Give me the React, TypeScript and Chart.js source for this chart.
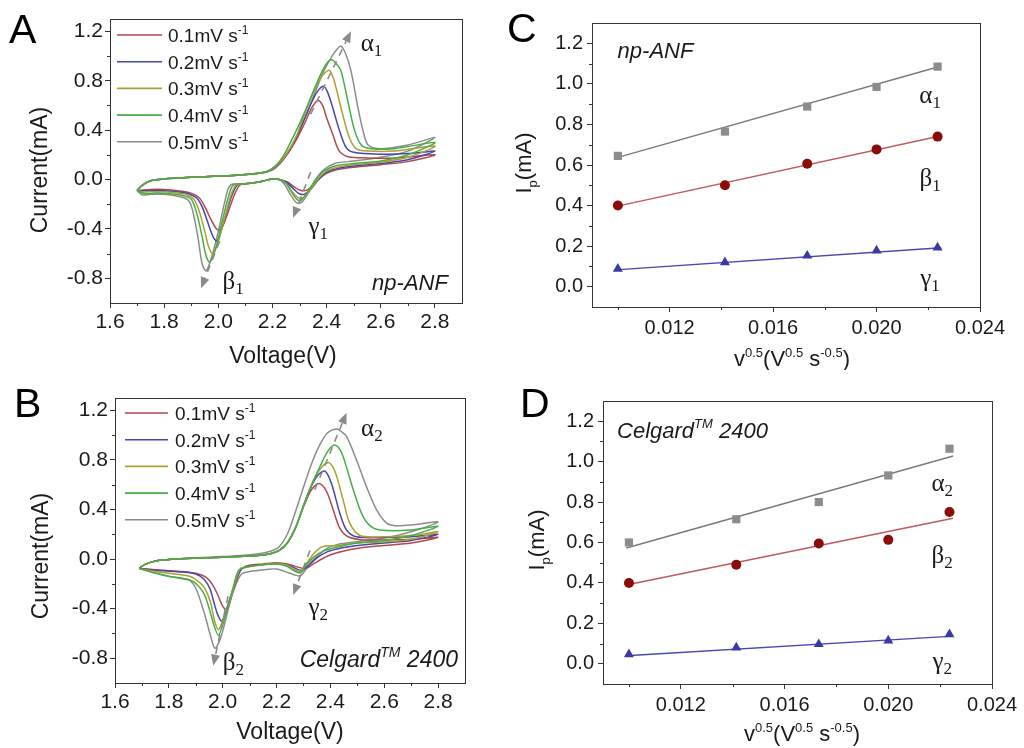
import React, { useEffect, useRef } from 'react';
import { Chart, registerables } from 'chart.js';

Chart.register(...registerables);

const SANS = '"Liberation Sans", Arial, sans-serif';
const SERIF = '"Liberation Serif", "Times New Roman", serif';

type Pt = [number, number];

// ---------- shared labels / colours ----------
const scanRateLabels = ['0.1', '0.2', '0.3', '0.4', '0.5'];
const cvColors = ['#b5484a', '#4646ad', '#aca033', '#46ae46', '#8c8c8c'];
const cvDrawOrder = [3, 2, 1, 0, 4];

// ---------- Panel A (np-ANF) cyclic voltammograms [V, mA] ----------
const cvA_01: Pt[] = [
  [1.70, -0.09], [1.72, -0.045], [1.75, -0.01], [1.8, 0.005], [1.9, 0.018], [2.0, 0.028], [2.08, 0.037], [2.14, 0.048], [2.18, 0.065],
  [2.21, 0.1], [2.25, 0.19], [2.29, 0.33], [2.32, 0.46], [2.345, 0.58], [2.368, 0.64], [2.385, 0.6], [2.4, 0.5], [2.422, 0.37], [2.447, 0.23], [2.48, 0.185], [2.55, 0.175], [2.65, 0.175], [2.8, 0.2],
  [2.7, 0.145], [2.6, 0.12], [2.5, 0.1], [2.44, 0.08], [2.4, 0.05], [2.37, 0.0], [2.345, -0.06], [2.322, -0.09], [2.3, -0.085], [2.28, -0.06], [2.255, -0.02], [2.225, 0.0], [2.2, 0.005],
  [2.15, -0.02], [2.1, -0.035], [2.08, -0.045], [2.06, -0.12], [2.04, -0.24], [2.02, -0.36], [2.005, -0.41], [1.99, -0.39], [1.97, -0.31], [1.95, -0.22], [1.93, -0.15], [1.9, -0.11], [1.85, -0.09], [1.8, -0.08], [1.75, -0.08], [1.72, -0.085], [1.70, -0.09],
];
const cvA_02: Pt[] = [
  [1.70, -0.09], [1.72, -0.045], [1.75, -0.01], [1.8, 0.005], [1.9, 0.018], [2.0, 0.028], [2.08, 0.037], [2.14, 0.048], [2.18, 0.065],
  [2.21, 0.105], [2.25, 0.2], [2.29, 0.35], [2.32, 0.5], [2.35, 0.65], [2.372, 0.73], [2.39, 0.754], [2.405, 0.7], [2.422, 0.586], [2.447, 0.4], [2.472, 0.26], [2.5, 0.22], [2.6, 0.205], [2.7, 0.21], [2.8, 0.23],
  [2.7, 0.16], [2.6, 0.13], [2.5, 0.11], [2.44, 0.09], [2.4, 0.06], [2.37, 0.0], [2.345, -0.07], [2.315, -0.12], [2.295, -0.11], [2.275, -0.07], [2.25, -0.02], [2.225, 0.0], [2.2, 0.005],
  [2.15, -0.02], [2.1, -0.035], [2.07, -0.045], [2.05, -0.13], [2.03, -0.27], [2.01, -0.42], [1.995, -0.5], [1.98, -0.46], [1.96, -0.34], [1.94, -0.22], [1.92, -0.15], [1.89, -0.115], [1.85, -0.1], [1.8, -0.09], [1.75, -0.09], [1.72, -0.09], [1.70, -0.09],
];
const cvA_03: Pt[] = [
  [1.70, -0.09], [1.72, -0.045], [1.75, -0.01], [1.8, 0.005], [1.9, 0.018], [2.0, 0.028], [2.08, 0.037], [2.14, 0.048], [2.18, 0.065],
  [2.21, 0.105], [2.25, 0.2], [2.29, 0.36], [2.32, 0.54], [2.35, 0.7], [2.38, 0.83], [2.409, 0.884], [2.425, 0.82], [2.434, 0.75], [2.459, 0.53], [2.484, 0.34], [2.509, 0.25], [2.553, 0.23], [2.65, 0.23], [2.8, 0.27],
  [2.7, 0.18], [2.6, 0.14], [2.5, 0.12], [2.44, 0.1], [2.4, 0.07], [2.37, 0.01], [2.34, -0.08], [2.31, -0.15], [2.29, -0.14], [2.27, -0.09], [2.25, -0.03], [2.225, 0.0], [2.2, 0.005],
  [2.15, -0.02], [2.1, -0.035], [2.065, -0.045], [2.045, -0.14], [2.025, -0.3], [2.0, -0.5], [1.98, -0.6], [1.965, -0.55], [1.95, -0.42], [1.93, -0.26], [1.91, -0.16], [1.88, -0.12], [1.85, -0.11], [1.8, -0.1], [1.75, -0.1], [1.72, -0.1], [1.70, -0.09],
];
const cvA_04: Pt[] = [
  [1.70, -0.09], [1.72, -0.045], [1.75, -0.01], [1.8, 0.005], [1.9, 0.018], [2.0, 0.028], [2.08, 0.037], [2.14, 0.048], [2.18, 0.065],
  [2.21, 0.11], [2.24, 0.19], [2.28, 0.36], [2.32, 0.55], [2.35, 0.71], [2.38, 0.86], [2.4, 0.94], [2.418, 0.97], [2.435, 0.94], [2.453, 0.88], [2.478, 0.64], [2.503, 0.4], [2.528, 0.28], [2.565, 0.25], [2.65, 0.25], [2.8, 0.3],
  [2.7, 0.2], [2.6, 0.15], [2.5, 0.13], [2.43, 0.11], [2.39, 0.07], [2.36, 0.0], [2.33, -0.1], [2.305, -0.17], [2.29, -0.16], [2.27, -0.1], [2.25, -0.03], [2.225, 0.0], [2.2, 0.005],
  [2.15, -0.02], [2.1, -0.035], [2.055, -0.045], [2.035, -0.16], [2.01, -0.38], [1.99, -0.56], [1.968, -0.67], [1.955, -0.62], [1.94, -0.46], [1.92, -0.27], [1.9, -0.16], [1.87, -0.13], [1.82, -0.115], [1.77, -0.11], [1.73, -0.115], [1.70, -0.09],
];
const cvA_05: Pt[] = [
  [1.70, -0.09], [1.72, -0.045], [1.75, -0.01], [1.8, 0.005], [1.9, 0.018], [2.0, 0.028], [2.08, 0.037], [2.14, 0.048], [2.18, 0.06],
  [2.21, 0.09], [2.24, 0.16], [2.28, 0.3], [2.32, 0.5], [2.36, 0.72], [2.39, 0.88], [2.42, 1.0], [2.44, 1.06], [2.453, 1.08], [2.47, 1.02], [2.49, 0.88], [2.515, 0.59], [2.534, 0.4], [2.553, 0.28], [2.6, 0.25], [2.7, 0.28], [2.8, 0.34],
  [2.7, 0.23], [2.6, 0.18], [2.5, 0.15], [2.43, 0.13], [2.39, 0.08], [2.36, 0.0], [2.33, -0.12], [2.31, -0.18], [2.297, -0.195], [2.285, -0.18], [2.266, -0.12], [2.245, -0.04], [2.225, 0.0], [2.2, 0.005],
  [2.15, -0.02], [2.1, -0.035], [2.045, -0.045], [2.025, -0.17], [2.0, -0.42], [1.975, -0.63], [1.955, -0.74], [1.94, -0.68], [1.925, -0.47], [1.905, -0.25], [1.89, -0.17], [1.86, -0.14], [1.8, -0.12], [1.75, -0.12], [1.72, -0.125], [1.70, -0.09],
];

// ---------- Panel B (Celgard 2400) cyclic voltammograms [V, mA] ----------
const cvB_01: Pt[] = [
  [1.69, -0.075], [1.71, -0.045], [1.75, -0.015], [1.82, 0.0], [1.9, 0.008], [2.0, 0.015], [2.08, 0.022], [2.14, 0.03], [2.18, 0.045],
  [2.21, 0.07], [2.24, 0.13], [2.27, 0.25], [2.3, 0.42], [2.33, 0.56], [2.358, 0.61], [2.386, 0.545], [2.41, 0.4], [2.435, 0.25], [2.466, 0.18], [2.52, 0.155], [2.6, 0.155], [2.7, 0.16], [2.8, 0.175],
  [2.7, 0.13], [2.6, 0.11], [2.51, 0.09], [2.45, 0.065], [2.39, 0.025], [2.34, -0.035], [2.315, -0.07], [2.3, -0.075], [2.28, -0.065], [2.25, -0.045], [2.2, -0.03],
  [2.15, -0.04], [2.1, -0.05], [2.075, -0.07], [2.06, -0.12], [2.04, -0.25], [2.025, -0.36], [2.015, -0.41], [2.0, -0.38], [1.98, -0.28], [1.96, -0.2], [1.94, -0.15], [1.91, -0.12], [1.85, -0.1], [1.78, -0.09], [1.72, -0.08], [1.69, -0.075],
];
const cvB_02: Pt[] = [
  [1.69, -0.075], [1.71, -0.045], [1.75, -0.015], [1.82, 0.0], [1.9, 0.008], [2.0, 0.015], [2.08, 0.022], [2.14, 0.03], [2.18, 0.045],
  [2.21, 0.07], [2.24, 0.13], [2.27, 0.25], [2.3, 0.43], [2.33, 0.59], [2.355, 0.68], [2.38, 0.71], [2.404, 0.61], [2.435, 0.37], [2.46, 0.235], [2.497, 0.18], [2.6, 0.175], [2.7, 0.18], [2.8, 0.2],
  [2.7, 0.15], [2.6, 0.13], [2.5, 0.11], [2.44, 0.09], [2.39, 0.06], [2.35, 0.01], [2.32, -0.05], [2.295, -0.09], [2.28, -0.085], [2.25, -0.055], [2.2, -0.035],
  [2.15, -0.045], [2.1, -0.055], [2.07, -0.08], [2.05, -0.17], [2.03, -0.3], [2.01, -0.43], [1.996, -0.5], [1.98, -0.44], [1.965, -0.33], [1.953, -0.24], [1.93, -0.16], [1.9, -0.12], [1.85, -0.105], [1.78, -0.095], [1.72, -0.085], [1.69, -0.075],
];
const cvB_03: Pt[] = [
  [1.69, -0.075], [1.71, -0.045], [1.75, -0.015], [1.82, 0.0], [1.9, 0.008], [2.0, 0.015], [2.08, 0.022], [2.14, 0.03], [2.18, 0.045],
  [2.21, 0.07], [2.24, 0.13], [2.27, 0.25], [2.3, 0.43], [2.33, 0.6], [2.36, 0.72], [2.392, 0.78], [2.41, 0.74], [2.423, 0.67], [2.447, 0.48], [2.472, 0.29], [2.51, 0.19], [2.6, 0.18], [2.7, 0.19], [2.8, 0.22],
  [2.7, 0.16], [2.6, 0.14], [2.5, 0.13], [2.43, 0.11], [2.37, 0.1], [2.34, 0.05], [2.31, -0.04], [2.29, -0.1], [2.27, -0.09], [2.24, -0.05], [2.2, -0.035],
  [2.15, -0.045], [2.1, -0.06], [2.065, -0.08], [2.045, -0.2], [2.025, -0.35], [2.0, -0.5], [1.984, -0.57], [1.97, -0.5], [1.955, -0.35], [1.935, -0.24], [1.915, -0.19], [1.88, -0.14], [1.82, -0.12], [1.75, -0.1], [1.69, -0.075],
];
const cvB_04: Pt[] = [
  [1.69, -0.075], [1.71, -0.045], [1.75, -0.015], [1.82, 0.0], [1.9, 0.008], [2.0, 0.015], [2.08, 0.022], [2.14, 0.03], [2.18, 0.045],
  [2.21, 0.07], [2.24, 0.13], [2.27, 0.25], [2.3, 0.43], [2.33, 0.6], [2.36, 0.74], [2.39, 0.87], [2.413, 0.92], [2.43, 0.9], [2.447, 0.83], [2.485, 0.56], [2.522, 0.34], [2.56, 0.25], [2.61, 0.23], [2.7, 0.235], [2.8, 0.265],
  [2.7, 0.19], [2.6, 0.15], [2.5, 0.13], [2.43, 0.1], [2.38, 0.07], [2.34, 0.02], [2.31, -0.05], [2.29, -0.11], [2.27, -0.1], [2.24, -0.06], [2.2, -0.04],
  [2.15, -0.045], [2.1, -0.06], [2.06, -0.09], [2.04, -0.22], [2.02, -0.38], [2.0, -0.53], [1.984, -0.615], [1.97, -0.55], [1.95, -0.4], [1.935, -0.3], [1.922, -0.25], [1.89, -0.18], [1.84, -0.155], [1.78, -0.13], [1.72, -0.095], [1.69, -0.075],
];
const cvB_05: Pt[] = [
  [1.69, -0.075], [1.71, -0.045], [1.75, -0.015], [1.82, 0.0], [1.9, 0.01], [2.0, 0.02], [2.08, 0.03], [2.14, 0.045], [2.18, 0.065],
  [2.21, 0.1], [2.24, 0.2], [2.27, 0.38], [2.3, 0.58], [2.33, 0.77], [2.36, 0.92], [2.39, 1.02], [2.423, 1.05], [2.44, 1.03], [2.46, 0.99], [2.497, 0.8], [2.534, 0.585], [2.571, 0.4], [2.609, 0.29], [2.64, 0.27], [2.7, 0.275], [2.8, 0.3],
  [2.7, 0.22], [2.6, 0.17], [2.5, 0.14], [2.43, 0.12], [2.386, 0.085], [2.35, 0.02], [2.324, -0.035], [2.3, -0.11], [2.287, -0.135], [2.27, -0.13], [2.25, -0.115], [2.2, -0.08],
  [2.16, -0.085], [2.1, -0.1], [2.07, -0.12], [2.05, -0.2], [2.03, -0.32], [2.01, -0.5], [1.99, -0.65], [1.971, -0.72], [1.955, -0.62], [1.94, -0.5], [1.928, -0.41], [1.903, -0.25], [1.878, -0.17], [1.85, -0.155], [1.804, -0.14], [1.75, -0.115], [1.72, -0.095], [1.69, -0.075],
];

// dashed trend arrows [from, to] in data units
const arrowsA: [Pt, Pt][] = [
  [[2.341, 0.53], [2.49, 1.2]],
  [[2.341, 0.06], [2.276, -0.31]],
  [[2.005, -0.5], [1.936, -0.88]],
];
const arrowsB: [Pt, Pt][] = [
  [[2.342, 0.56], [2.46, 1.18]],
  [[2.324, 0.07], [2.262, -0.29]],
  [[2.02, -0.3], [1.965, -0.86]],
];

// ---------- Panels C & D: peak current vs sqrt(scan rate) ----------
const sqrtRate = [0.01, 0.01414, 0.01732, 0.02, 0.02236];
const ipAlpha1 = [0.645, 0.765, 0.888, 0.985, 1.085];
const ipBeta1 = [0.4, 0.5, 0.606, 0.677, 0.74];
const ipGamma1 = [0.088, 0.12, 0.153, 0.178, 0.193];
const ipAlpha2 = [0.6, 0.715, 0.8, 0.932, 1.064];
const ipBeta2 = [0.4, 0.49, 0.595, 0.613, 0.751];
const ipGamma2 = [0.047, 0.08, 0.097, 0.115, 0.146];
const fitX = [0.0099, 0.0225];
const fitAlpha1 = [0.634, 1.088];
const fitBeta1 = [0.395, 0.744];
const fitGamma1 = [0.083, 0.192];
const fitAlpha2 = [0.573, 1.028];
const fitBeta2 = [0.39, 0.72];
const fitGamma2 = [0.04, 0.137];

// ---------- axis ticks ----------
const cvXMajor = [1.6, 1.8, 2.0, 2.2, 2.4, 2.6, 2.8];
const cvXMinor = [1.7, 1.9, 2.1, 2.3, 2.5, 2.7];
const cvYMajor = [-0.8, -0.4, 0.0, 0.4, 0.8, 1.2];
const cvYMinor = [-0.6, -0.2, 0.2, 0.6, 1.0];
const ipXMajor = [0.012, 0.016, 0.02, 0.024];
const ipXMinor = [0.01, 0.014, 0.018, 0.022];
const ipYMajor = [0.0, 0.2, 0.4, 0.6, 0.8, 1.0, 1.2];
const ipYMinor = [0.1, 0.3, 0.5, 0.7, 0.9, 1.1];

// ---------- helpers ----------
type Seg = { t: string; size: number; family?: string; style?: string; dy?: number };
type Align = 'left' | 'center' | 'right';

function drawRich(ctx: CanvasRenderingContext2D, segs: Seg[], x: number, y: number, align: Align, color = '#1a1a1a') {
  const ws: number[] = [];
  let total = 0;
  for (const s of segs) {
    ctx.font = `${s.style || 'normal'} ${s.size}px ${s.family || SANS}`;
    const w = ctx.measureText(s.t).width;
    ws.push(w);
    total += w;
  }
  let cx = align === 'left' ? x : align === 'right' ? x - total : x - total / 2;
  ctx.textAlign = 'left';
  ctx.textBaseline = 'alphabetic';
  ctx.fillStyle = color;
  segs.forEach((s, i) => {
    ctx.font = `${s.style || 'normal'} ${s.size}px ${s.family || SANS}`;
    ctx.fillText(s.t, cx, y + (s.dy || 0));
    cx += ws[i];
  });
}

const greek = (g: string, sub: string): Seg[] => [
  { t: g, size: 25, family: SERIF },
  { t: sub, size: 17, family: SERIF, dy: 5 },
];

type DataText = { segs: Seg[]; at: Pt; align: Align; base: number };

interface Panel {
  id: string;
  x: number; y: number; w: number; h: number;
  area: { left: number; top: number; right: number; bottom: number };
  xMin: number; xMax: number; yMin: number; yMax: number;
  xMajor: number[]; xMinor: number[]; yMajor: number[]; yMinor: number[];
  xDec: number; yDec: number;
  tickSize: number; xPad: number; yPad: number;
  datasets: any[];
  letter: string; letterPos: Pt;
  xTitle: Seg[]; xTitlePos: Pt;
  yTitle: Seg[]; yTitlePos: Pt;
  texts: DataText[];
  arrows: [Pt, Pt][];
  legend?: { lineX0: number; lineX1: number; textX: number; y0: number; step: number };
}

const toXY = (pts: Pt[]) => pts.map(([x, y]) => ({ x, y }));

function cvDatasets(curves: Pt[][]) {
  return curves.map((pts, i) => ({
    label: `${scanRateLabels[i]}mV s-1`,
    data: toXY(pts),
    showLine: true,
    borderColor: cvColors[i],
    backgroundColor: cvColors[i],
    borderWidth: 1.5,
    pointRadius: 0,
    tension: 0.3,
    fill: false,
    order: cvDrawOrder[i],
  }));
}

function ipDatasets(a: number[], b: number[], g: number[], fa: number[], fb: number[], fg: number[]) {
  const line = (vals: number[], color: string) => ({
    data: fitX.map((x, i) => ({ x, y: vals[i] })),
    showLine: true, borderColor: color, borderWidth: 1.4, pointRadius: 0, order: 2,
  });
  const marks = (vals: number[], color: string, style: string, r: number) => ({
    data: sqrtRate.map((x, i) => ({ x, y: vals[i] })),
    showLine: false, pointStyle: style, pointRadius: r, backgroundColor: color, borderColor: color, borderWidth: 0, order: 0,
  });
  return [
    line(fa, '#7a7a7a'), line(fb, '#c05a5a'), line(fg, '#4848b0'),
    marks(a, '#8c8c8c', 'rect', 5.8), marks(b, '#8b0a0a', 'circle', 5), marks(g, '#3a3aa3', 'triangle', 5.8),
  ];
}

const supSeg = (t: string, size = 13, dy = -9, style = 'normal'): Seg => ({ t, size, dy, style });

const cvXTitle: Seg[] = [{ t: 'Voltage(V)', size: 23 }];
const cvYTitle: Seg[] = [{ t: 'Current(mA)', size: 23 }];
const ipXTitle: Seg[] = [
  { t: 'v', size: 22 }, supSeg('0.5'), { t: '(V', size: 22 }, supSeg('0.5'), { t: ' s', size: 22 }, supSeg('-0.5'), { t: ')', size: 22 },
];
const ipYTitle: Seg[] = [{ t: 'I', size: 22 }, { t: 'p', size: 13, dy: 6 }, { t: '(mA)', size: 22 }];
const celgard = (size: number): Seg[] => [
  { t: 'Celgard', size, style: 'italic' },
  { t: 'TM', size: Math.round(size * 0.6), style: 'italic', dy: -10 },
  { t: ' 2400', size, style: 'italic' },
];

const PANELS: Panel[] = [
  {
    id: 'A', x: 0, y: 0, w: 500, h: 370,
    area: { left: 110, top: 19, right: 462, bottom: 303 },
    xMin: 1.6, xMax: 2.9, yMin: -1.0, yMax: 1.3,
    xMajor: cvXMajor, xMinor: cvXMinor, yMajor: cvYMajor, yMinor: cvYMinor,
    xDec: 1, yDec: 1, tickSize: 21, xPad: 2, yPad: 2,
    datasets: cvDatasets([cvA_01, cvA_02, cvA_03, cvA_04, cvA_05]),
    letter: 'A', letterPos: [9, 43],
    xTitle: cvXTitle, xTitlePos: [283, 363],
    yTitle: cvYTitle, yTitlePos: [47, 170],
    texts: [
      { segs: greek('α', '1'), at: [2.566, 1.09], align: 'center', base: 6 },
      { segs: greek('β', '1'), at: [2.055, -0.84], align: 'center', base: 6 },
      { segs: greek('γ', '1'), at: [2.369, -0.395], align: 'center', base: 6 },
      { segs: [{ t: 'np-ANF', size: 22, style: 'italic' }], at: [2.848, -0.83], align: 'right', base: 8 },
    ],
    arrows: arrowsA,
    legend: { lineX0: 7, lineX1: 52, textX: 58, y0: 16, step: 26.7 },
  },
  {
    id: 'B', x: 0, y: 370, w: 500, h: 378,
    area: { left: 115, top: 28, right: 465, bottom: 313 },
    xMin: 1.6, xMax: 2.9, yMin: -1.0, yMax: 1.3,
    xMajor: cvXMajor, xMinor: cvXMinor, yMajor: cvYMajor, yMinor: cvYMinor,
    xDec: 1, yDec: 1, tickSize: 21, xPad: 2, yPad: 2,
    datasets: cvDatasets([cvB_01, cvB_02, cvB_03, cvB_04, cvB_05]),
    letter: 'B', letterPos: [14, 47],
    xTitle: cvXTitle, xTitlePos: [290, 369],
    yTitle: cvYTitle, yTitlePos: [48, 186],
    texts: [
      { segs: greek('α', '2'), at: [2.554, 1.04], align: 'center', base: 6 },
      { segs: greek('β', '2'), at: [2.04, -0.845], align: 'center', base: 6 },
      { segs: greek('γ', '2'), at: [2.355, -0.4], align: 'center', base: 6 },
      { segs: celgard(23), at: [2.874, -0.81], align: 'right', base: 8 },
    ],
    arrows: arrowsB,
    legend: { lineX0: 10, lineX1: 53, textX: 60, y0: 15, step: 26.7 },
  },
  {
    id: 'C', x: 500, y: 0, w: 524, h: 370,
    area: { left: 92, top: 23, right: 480, bottom: 307 },
    xMin: 0.009, xMax: 0.024, yMin: -0.1, yMax: 1.3,
    xMajor: ipXMajor, xMinor: ipXMinor, yMajor: ipYMajor, yMinor: ipYMinor,
    xDec: 3, yDec: 1, tickSize: 20, xPad: 4, yPad: 4,
    datasets: ipDatasets(ipAlpha1, ipBeta1, ipGamma1, fitAlpha1, fitBeta1, fitGamma1),
    letter: 'C', letterPos: [7, 42],
    xTitle: ipXTitle, xTitlePos: [292, 366],
    yTitle: ipYTitle, yTitlePos: [31, 163],
    texts: [
      { segs: [{ t: 'np-ANF', size: 22, style: 'italic' }], at: [0.00999, 1.168], align: 'left', base: 8 },
      { segs: greek('α', '1'), at: [0.02207, 0.934], align: 'center', base: 6 },
      { segs: greek('β', '1'), at: [0.02207, 0.528], align: 'center', base: 6 },
      { segs: greek('γ', '1'), at: [0.02207, 0.033], align: 'center', base: 6 },
    ],
    arrows: [],
  },
  {
    id: 'D', x: 500, y: 370, w: 524, h: 378,
    area: { left: 103, top: 31, right: 492, bottom: 314 },
    xMin: 0.009, xMax: 0.024, yMin: -0.1, yMax: 1.3,
    xMajor: ipXMajor, xMinor: ipXMinor, yMajor: ipYMajor, yMinor: ipYMinor,
    xDec: 3, yDec: 1, tickSize: 20, xPad: 4, yPad: 4,
    datasets: ipDatasets(ipAlpha2, ipBeta2, ipGamma2, fitAlpha2, fitBeta2, fitGamma2),
    letter: 'D', letterPos: [20, 47],
    xTitle: ipXTitle, xTitlePos: [302, 371],
    yTitle: ipYTitle, yTitlePos: [44, 170],
    texts: [
      { segs: celgard(22), at: [0.00954, 1.159], align: 'left', base: 8 },
      { segs: greek('α', '2'), at: [0.02208, 0.883], align: 'center', base: 6 },
      { segs: greek('β', '2'), at: [0.02208, 0.529], align: 'center', base: 6 },
      { segs: greek('γ', '2'), at: [0.02208, 0.0035], align: 'center', base: 6 },
    ],
    arrows: [],
  },
];

function decorPlugin(p: Panel) {
  return {
    id: 'decor' + p.id,
    afterDraw(chart: any) {
      const ctx: CanvasRenderingContext2D = chart.ctx;
      const { left, top, right, bottom } = chart.chartArea;
      const xs = chart.scales.x;
      const ys = chart.scales.y;
      ctx.save();
      // frame
      ctx.strokeStyle = '#333';
      ctx.lineWidth = 1;
      ctx.setLineDash([]);
      ctx.strokeRect(Math.round(left) + 0.5, Math.round(top) + 0.5, Math.round(right - left), Math.round(bottom - top));
      // minor ticks
      ctx.beginPath();
      for (const v of p.xMinor) {
        const px = Math.round(xs.getPixelForValue(v)) + 0.5;
        ctx.moveTo(px, bottom);
        ctx.lineTo(px, bottom + 3);
      }
      for (const v of p.yMinor) {
        const py = Math.round(ys.getPixelForValue(v)) + 0.5;
        ctx.moveTo(left, py);
        ctx.lineTo(left - 3, py);
      }
      ctx.stroke();
      // arrows
      for (const [from, to] of p.arrows) {
        const x0 = xs.getPixelForValue(from[0]);
        const y0 = ys.getPixelForValue(from[1]);
        const x1 = xs.getPixelForValue(to[0]);
        const y1 = ys.getPixelForValue(to[1]);
        const ang = Math.atan2(y1 - y0, x1 - x0);
        const hl = 11;
        const hw = 4.5;
        const xe = x1 - hl * Math.cos(ang);
        const ye = y1 - hl * Math.sin(ang);
        ctx.strokeStyle = '#8a8a8a';
        ctx.fillStyle = '#8a8a8a';
        ctx.lineWidth = 1.6;
        ctx.setLineDash([7, 6]);
        ctx.beginPath();
        ctx.moveTo(x0, y0);
        ctx.lineTo(xe, ye);
        ctx.stroke();
        ctx.setLineDash([]);
        ctx.beginPath();
        ctx.moveTo(x1, y1);
        ctx.lineTo(xe + hw * Math.sin(ang), ye - hw * Math.cos(ang));
        ctx.lineTo(xe - hw * Math.sin(ang), ye + hw * Math.cos(ang));
        ctx.closePath();
        ctx.fill();
      }
      // legend
      if (p.legend) {
        const lg = p.legend;
        scanRateLabels.forEach((lab, i) => {
          const yy = top + lg.y0 + i * lg.step;
          ctx.strokeStyle = cvColors[i];
          ctx.lineWidth = 1.6;
          ctx.beginPath();
          ctx.moveTo(left + lg.lineX0, yy);
          ctx.lineTo(left + lg.lineX1, yy);
          ctx.stroke();
          drawRich(ctx, [{ t: `${lab}mV s`, size: 19 }, supSeg('-1', 12, -8)], left + lg.textX, yy + 7, 'left');
        });
      }
      // annotation texts
      for (const t of p.texts) {
        const px = xs.getPixelForValue(t.at[0]);
        const py = ys.getPixelForValue(t.at[1]);
        drawRich(ctx, t.segs, px, py + t.base, t.align);
      }
      // panel letter
      drawRich(ctx, [{ t: p.letter, size: 41 }], p.letterPos[0], p.letterPos[1], 'left', '#000');
      // axis titles
      drawRich(ctx, p.xTitle, p.xTitlePos[0], p.xTitlePos[1], 'center');
      ctx.save();
      ctx.translate(p.yTitlePos[0], p.yTitlePos[1]);
      ctx.rotate(-Math.PI / 2);
      drawRich(ctx, p.yTitle, 0, 0, 'center');
      ctx.restore();
      ctx.restore();
    },
  };
}

function buildChart(canvas: HTMLCanvasElement, p: Panel) {
  const tickFont = { family: SANS, size: p.tickSize };
  const grid = { display: true, drawOnChartArea: false, drawTicks: true, tickLength: 5, tickColor: '#333', tickWidth: 1 };
  return new Chart(canvas, {
    type: 'scatter',
    data: { datasets: p.datasets },
    options: {
      responsive: false,
      maintainAspectRatio: false,
      animation: false,
      devicePixelRatio: 1,
      events: [],
      layout: { padding: { left: 0, top: p.area.top, right: p.w - p.area.right, bottom: 0 } },
      plugins: { legend: { display: false }, tooltip: { enabled: false } },
      scales: {
        x: {
          type: 'linear', position: 'bottom', min: p.xMin, max: p.xMax,
          afterBuildTicks: (s: any) => { s.ticks = p.xMajor.map((v) => ({ value: v })); },
          afterFit: (s: any) => { s.height = p.h - p.area.bottom; },
          ticks: { callback: (v: any) => Number(v).toFixed(p.xDec), font: tickFont, color: '#1a1a1a', padding: p.xPad, maxRotation: 0, autoSkip: false },
          grid,
          border: { display: false },
          title: { display: false },
        },
        y: {
          type: 'linear', position: 'left', min: p.yMin, max: p.yMax,
          afterBuildTicks: (s: any) => { s.ticks = p.yMajor.map((v) => ({ value: v })); },
          afterFit: (s: any) => { s.width = p.area.left; },
          ticks: { callback: (v: any) => Number(v).toFixed(p.yDec), font: tickFont, color: '#1a1a1a', padding: p.yPad, autoSkip: false },
          grid,
          border: { display: false },
          title: { display: false },
        },
      },
    } as any,
    plugins: [decorPlugin(p)],
  });
}

export default function App() {
  const refs = useRef<(HTMLCanvasElement | null)[]>([]);
  useEffect(() => {
    const charts = PANELS.map((p, i) => buildChart(refs.current[i] as HTMLCanvasElement, p));
    return () => charts.forEach((c) => c.destroy());
  }, []);
  return (
    <div style={{ position: 'absolute', left: 0, top: 0, width: 1024, height: 748, background: '#fff' }}>
      {PANELS.map((p, i) => (
        <canvas
          key={p.id}
          ref={(el) => { refs.current[i] = el; }}
          width={p.w}
          height={p.h}
          style={{ position: 'absolute', left: p.x, top: p.y, width: p.w, height: p.h }}
        />
      ))}
    </div>
  );
}
